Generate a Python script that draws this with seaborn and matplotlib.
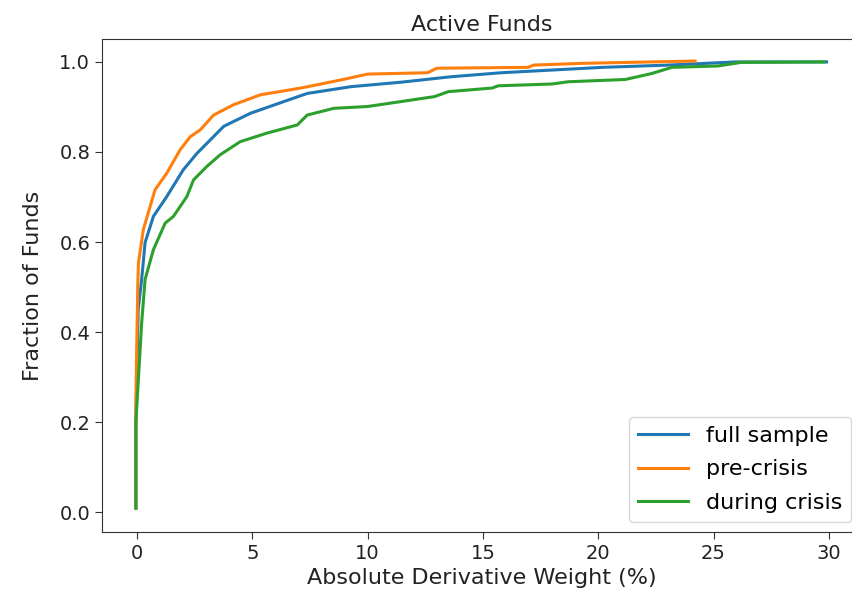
import matplotlib
matplotlib.use("Agg")
import matplotlib.pyplot as plt
import seaborn as sns
import pandas as pd

full_x = [-0.05, -0.05, 0.05, 0.2, 0.35, 0.71, 1.29, 2.0, 2.6, 3.76, 4.92, 6.37, 7.38, 9.27, 11.45, 13.6, 15.8, 20.2, 23.05, 25.95, 29.9]
full_y = [0.009, 0.2, 0.45, 0.517, 0.599, 0.657, 0.701, 0.76, 0.797, 0.857, 0.886, 0.912, 0.93, 0.945, 0.955, 0.967, 0.976, 0.988, 0.993, 1.0, 1.0]

pre_x = [-0.05, -0.05, 0.03, 0.06, 0.27, 0.78, 1.29, 1.87, 2.31, 2.74, 3.32, 4.19, 5.35, 7.1, 8.84, 10.0, 12.6, 13.0, 16.95, 17.2, 19.4, 24.2]
pre_y = [0.009, 0.25, 0.5, 0.553, 0.627, 0.716, 0.753, 0.805, 0.834, 0.849, 0.882, 0.905, 0.927, 0.942, 0.96, 0.973, 0.976, 0.986, 0.988, 0.993, 0.997, 1.002]

crisis_x = [-0.05, -0.05, 0.2, 0.35, 0.71, 1.22, 1.58, 2.16, 2.45, 3.03, 3.61, 4.48, 5.64, 6.95, 7.38, 8.54, 10.0, 11.45, 12.9, 13.5, 15.4, 15.66, 18.0, 18.7, 21.17, 22.3, 23.2, 25.2, 26.2, 29.8]
crisis_y = [0.009, 0.2, 0.42, 0.517, 0.583, 0.642, 0.657, 0.701, 0.738, 0.768, 0.794, 0.823, 0.842, 0.86, 0.882, 0.897, 0.901, 0.912, 0.923, 0.934, 0.942, 0.947, 0.951, 0.956, 0.961, 0.974, 0.988, 0.991, 0.999, 1.0]

labels = ["full sample", "pre-crisis", "during crisis"]

frames = []
for lab, xs, ys in zip(labels, [full_x, pre_x, crisis_x], [full_y, pre_y, crisis_y]):
    frames.append(pd.DataFrame({"x": xs, "y": ys, "series": lab}))
df = pd.concat(frames, ignore_index=True)

plt.rcParams["font.family"] = ["DejaVu Sans"]
fig = plt.figure(figsize=(8.52, 6.07), dpi=100)
ax = fig.add_axes([0.1197, 0.1236, 0.891, 0.8122])

palette = {"full sample": "#1f77b4", "pre-crisis": "#ff7f0e", "during crisis": "#2ca02c"}
sns.lineplot(data=df, x="x", y="y", hue="series", palette=palette, sort=False,
             estimator=None, linewidth=2.2, ax=ax, hue_order=labels)

ax.set_xlim(-1.52, 31.4)
ax.set_ylim(-0.044, 1.051)
ax.set_xticks([0, 5, 10, 15, 20, 25, 30])
ax.set_yticks([0.0, 0.2, 0.4, 0.6, 0.8, 1.0])
ax.set_yticklabels(["0.0", "0.2", "0.4", "0.6", "0.8", "1.0"])
ax.tick_params(labelsize=14, length=5, color="#333333", labelcolor="#222222")
for s in ax.spines.values():
    s.set_color("#333333")
ax.spines["right"].set_visible(False)
ax.set_xlabel("Absolute Derivative Weight (%)", fontsize=16, color="#222222")
ax.set_ylabel("Fraction of Funds", fontsize=16, color="#222222", labelpad=12)
ax.set_title("Active Funds", fontsize=16, color="#222222")
leg = ax.legend(loc="lower right", fontsize=16, title=None, handlelength=2.25,
                labelspacing=0.62, borderaxespad=0.45)
fig.savefig("out.png", dpi=100)
